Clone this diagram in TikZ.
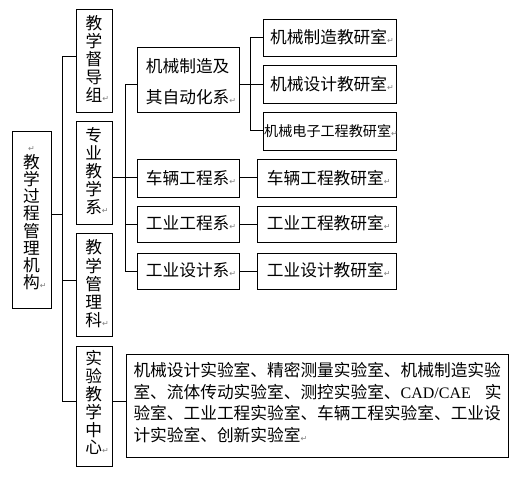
\documentclass[tikz,border=0pt]{standalone}
\usepackage{fontspec}
\setmainfont{Noto Sans CJK SC}
\newfontfamily\dvfont{DejaVu Sans}
\newfontfamily\tnrfont{Liberation Serif}
\newcommand\pmk{{\dvfont\fontsize{8}{8}\selectfont\textcolor{gray}{↵}}}
\begin{document}
\begin{tikzpicture}[x=1pt,y=-1pt,
  box/.style={draw, line width=1pt, rectangle, inner sep=0pt, anchor=north west},
  vtext/.style={align=center, inner sep=0pt, anchor=center},
  htext/.style={inner sep=0pt, anchor=west, font=\fontsize{16.7}{20}\selectfont},
  conn/.style={line width=1pt}]
\useasboundingbox (0,0) rectangle (520,479);
% boxes
\node[box, minimum width=38.4pt, minimum height=177.3pt] (root) at (12.3,131) {};
\node[box, minimum width=36.6pt, minimum height=102.7pt] (dd) at (75.7,9.3) {};
\node[box, minimum width=36.6pt, minimum height=102.7pt] (zy) at (75.7,121.3) {};
\node[box, minimum width=36.6pt, minimum height=102.7pt] (gl) at (75.7,233.3) {};
\node[box, minimum width=36.6pt, minimum height=120.3pt] (sy) at (75.7,345.7) {};
\node[box, minimum width=101.4pt, minimum height=65pt] (jz) at (137.3,47.3) {};
\node[box, minimum width=101.4pt, minimum height=37.4pt] (cl) at (137.3,159.3) {};
\node[box, minimum width=101.4pt, minimum height=36.6pt] (gg) at (137.3,205.7) {};
\node[box, minimum width=101.4pt, minimum height=36.6pt] (gs) at (137.3,252.7) {};
\node[box, minimum width=132.4pt, minimum height=37pt] (r1) at (263.3,19.3) {};
\node[box, minimum width=132.4pt, minimum height=38pt] (r2) at (263.3,65.3) {};
\node[box, minimum width=132.4pt, minimum height=37.4pt] (r3) at (263.3,112.3) {};
\node[box, minimum width=138.4pt, minimum height=37.4pt] (r4) at (257.3,159.3) {};
\node[box, minimum width=138.4pt, minimum height=36.6pt] (r5) at (257.3,205.7) {};
\node[box, minimum width=138.4pt, minimum height=36.6pt] (r6) at (257.3,252.7) {};
\node[box, minimum width=382pt, minimum height=102.7pt] (lab) at (125.7,354.3) {};
% texts
\node[vtext, font=\fontsize{16.7}{17.2}\selectfont] (t-root) at (31.5,213.5)
  {\vphantom{教}\pmk\\教\\学\\过\\程\\管\\理\\机\\构\rlap{\pmk}};
\node[vtext, font=\fontsize{16.7}{17.9}\selectfont] (t-dd) at (94,59.2) {教\\学\\督\\导\\组\rlap{\pmk}};
\node[vtext, font=\fontsize{16.7}{18}\selectfont] (t-zy) at (93.6,171.2) {专\\业\\教\\学\\系\rlap{\pmk}};
\node[vtext, font=\fontsize{16.7}{18.1}\selectfont] (t-gl) at (93.8,283.8) {教\\学\\管\\理\\科\rlap{\pmk}};
\node[vtext, font=\fontsize{16.7}{17.8}\selectfont] (t-sy) at (93.8,402.9) {实\\验\\教\\学\\中\\心\rlap{\pmk}};
\node[htext, align=left, font=\fontsize{16.7}{31}\selectfont] (t-jz) at (145.7,81.2) {机械制造及\\其自动化系\pmk};
\node[htext] (t-cl) at (145.7,178) {车辆工程系\pmk};
\node[htext] (t-gg) at (145.7,223.5) {工业工程系\pmk};
\node[htext] (t-gs) at (145.7,270.5) {工业设计系\pmk};
\node[htext] (t-r1) at (270,37.6) {机械制造教研室\pmk};
\node[htext] (t-r2) at (270,84.2) {机械设计教研室\pmk};
\node[htext, font=\fontsize{14.1}{17}\selectfont] (t-r3) at (264,131) {机械电子工程教研室\pmk};
\node[htext] (t-r4) at (266.7,178) {车辆工程教研室\pmk};
\node[htext] (t-r5) at (266.7,223.5) {工业工程教研室\pmk};
\node[htext] (t-r6) at (266.7,270.5) {工业设计教研室\pmk};
\node[htext, align=left, font=\fontsize{16.7}{21.7}\selectfont] (t-lab) at (133.3,402.5)
  {\hbox to 368pt{机械设计实验室、精密测量实验室、机械制造实验}\\
   \hbox to 368pt{室、流体传动实验室、测控实验室、{\tnrfont\fontsize{16}{16}\selectfont CAD/CAE}\hfill 实}\\
   \hbox to 368pt{验室、工业工程实验室、车辆工程实验室、工业设}\\
   计实验室、创新实验室\pmk};
% connectors
\coordinate (ja) at (62.3,56);
\coordinate (jr) at (62.3,214.3);
\coordinate (jb) at (62.3,280.7);
\coordinate (jc) at (62.3,401.3);
\draw[conn] (dd.west |- ja) -- (ja) -- (jc) -- (sy.west |- jc);
\draw[conn] (jb) -- (gl.west |- jb);
\draw[conn] (root.east |- jr) -- (jr);
\coordinate (k1) at (125.3,84.3);
\coordinate (k2) at (125.3,177.3);
\coordinate (k3) at (125.3,224);
\coordinate (k4) at (125.3,271);
\draw[conn] (jz.west |- k1) -- (k1) -- (k4) -- (gs.west |- k4);
\draw[conn] (zy.east |- k2) -- (k2) -- (cl.west |- k2);
\draw[conn] (k3) -- (gg.west |- k3);
\coordinate (m1) at (250.7,37.5);
\coordinate (m2) at (250.7,84.2);
\coordinate (m3) at (250.7,130.8);
\draw[conn] (r1.west |- m1) -- (m1) -- (m3) -- (r3.west |- m3);
\draw[conn] (jz.east |- m2) -- (m2) -- (r2.west |- m2);
\draw[conn] (cl.east |- k2) -- (r4.west |- k2);
\draw[conn] (gg.east |- k3) -- (r5.west |- k3);
\draw[conn] (gs.east |- k4) -- (r6.west |- k4);
\draw[conn] (sy.east |- jc) -- (lab.west |- jc);
\end{tikzpicture}
\end{document}
